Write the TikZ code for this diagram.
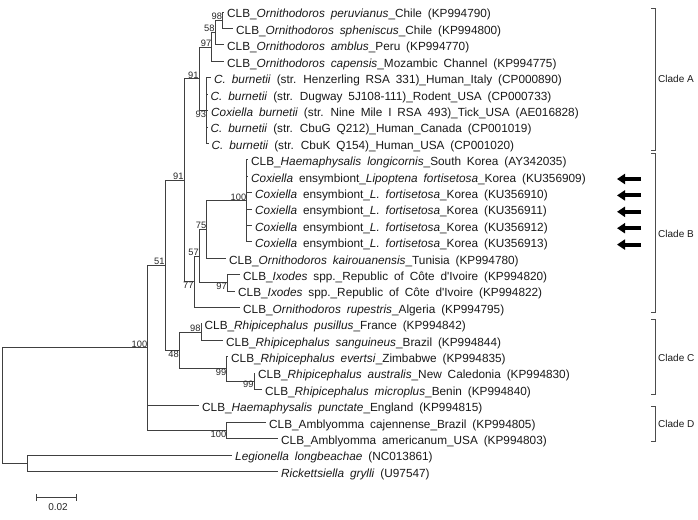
\documentclass[tikz,border=0pt]{standalone}
\usepackage{fontspec}
\setmainfont{Liberation Sans}
\usetikzlibrary{arrows.meta}

\begin{document}
\begin{tikzpicture}[
    x=1pt, y=-1pt,
    branch/.style={draw=black!75, line width=0.6pt},
    leaf/.style={anchor=base west, inner sep=0pt, xshift=3pt, yshift=-6pt, text=black!90,
        font={\fontsize{11.8}{13}\selectfont\spaceskip=0.5em\relax}},
    boot/.style={inner sep=0.3pt, text=black!85, font=\fontsize{9.3}{10}\selectfont},
    clade/.style={anchor=west, inner sep=0pt, text=black!90, font=\fontsize{10}{12}\selectfont},
    bracket/.style={draw=black!70, line width=0.6pt},
    marker/.style={-{Triangle[width=10pt,length=8pt]}, line width=4pt}
]
\useasboundingbox (0,0) rectangle (698,519);

% Internal nodes
\coordinate (nroot) at (2.5,405.4);
\coordinate (nout) at (27,463);
\coordinate (nbig) at (147.7,347.7);
\coordinate (nD) at (226.7,430.2);
\coordinate (n51) at (165,265.2);
\coordinate (nL91) at (184,180.1);
\coordinate (nU91) at (199,78.6);
\coordinate (nO97) at (211.7,46.9);
\coordinate (n58) at (215,32.5);
\coordinate (n98) at (222.5,20.2);
\coordinate (n93) at (206.5,110.4);
\coordinate (n77) at (194,281.6);
\coordinate (n57) at (199.3,256);
\coordinate (n75) at (206.7,229.3);
\coordinate (nB100) at (246.7,200.6);
\coordinate (nI97) at (227.3,282.6);
\coordinate (n48) at (179.3,350.3);
\coordinate (nC98) at (201,331.8);
\coordinate (n99) at (226.7,368.7);
\coordinate (n99b) at (254,381);

% Leaf tips
\coordinate (t1) at (224,12);
\coordinate (t2) at (233,28.4);
\coordinate (t3) at (224,44.8);
\coordinate (t4) at (224,61.2);
\coordinate (t5) at (211,77.6);
\coordinate (t6) at (207.5,94);
\coordinate (t7) at (208,110.4);
\coordinate (t8) at (207.5,126.8);
\coordinate (t9) at (208.5,143.2);
\coordinate (t10) at (248,159.6);
\coordinate (t11) at (248,176);
\coordinate (t12) at (252,192.4);
\coordinate (t13) at (252,208.8);
\coordinate (t14) at (252,225.2);
\coordinate (t15) at (252,241.6);
\coordinate (t16) at (226,258);
\coordinate (t17) at (240,274.4);
\coordinate (t18) at (235,290.8);
\coordinate (t19) at (240,307.2);
\coordinate (t20) at (201.5,323.6);
\coordinate (t21) at (223,340);
\coordinate (t22) at (228,356.4);
\coordinate (t23) at (255,372.8);
\coordinate (t24) at (262,389.2);
\coordinate (t25) at (199,405.6);
\coordinate (t26) at (266,422);
\coordinate (t27) at (278,438.4);
\coordinate (t28) at (232,454.8);
\coordinate (t29) at (278,471.2);

% Leaf labels
\node[leaf] (l1) at (t1) {CLB\_\textit{Ornithodoros peruvianus}\_Chile (KP994790)};
\node[leaf] (l2) at (t2) {CLB\_\textit{Ornithodoros spheniscus}\_Chile (KP994800)};
\node[leaf] (l3) at (t3) {CLB\_\textit{Ornithodoros amblus}\_Peru (KP994770)};
\node[leaf] (l4) at (t4) {CLB\_\textit{Ornithodoros capensis}\_Mozambic Channel (KP994775)};
\node[leaf] (l5) at (t5) {\textit{C. burnetii} (str. Henzerling RSA 331)\_Human\_Italy (CP000890)};
\node[leaf] (l6) at (t6) {\textit{C. burnetii} (str. Dugway 5J108-111)\_Rodent\_USA (CP000733)};
\node[leaf] (l7) at (t7) {\textit{Coxiella burnetii} (str. Nine Mile I RSA 493)\_Tick\_USA (AE016828)};
\node[leaf] (l8) at (t8) {\textit{C. burnetii} (str. CbuG Q212)\_Human\_Canada (CP001019)};
\node[leaf] (l9) at (t9) {\textit{C. burnetii} (str. CbuK Q154)\_Human\_USA (CP001020)};
\node[leaf] (l10) at (t10) {CLB\_\textit{Haemaphysalis longicornis}\_South Korea (AY342035)};
\node[leaf] (l11) at (t11) {\textit{Coxiella} ensymbiont\_\textit{Lipoptena fortisetosa}\_Korea (KU356909)};
\node[leaf] (l12) at (t12) {\textit{Coxiella} ensymbiont\_\textit{L. fortisetosa}\_Korea (KU356910)};
\node[leaf] (l13) at (t13) {\textit{Coxiella} ensymbiont\_\textit{L. fortisetosa}\_Korea (KU356911)};
\node[leaf] (l14) at (t14) {\textit{Coxiella} ensymbiont\_\textit{L. fortisetosa}\_Korea (KU356912)};
\node[leaf] (l15) at (t15) {\textit{Coxiella} ensymbiont\_\textit{L. fortisetosa}\_Korea (KU356913)};
\node[leaf] (l16) at (t16) {CLB\_\textit{Ornithodoros kairouanensis}\_Tunisia (KP994780)};
\node[leaf] (l17) at (t17) {CLB\_\textit{Ixodes} spp.\_Republic of Côte d\textquotesingle Ivoire (KP994820)};
\node[leaf] (l18) at (t18) {CLB\_\textit{Ixodes} spp.\_Republic of Côte d\textquotesingle Ivoire (KP994822)};
\node[leaf] (l19) at (t19) {CLB\_\textit{Ornithodoros rupestris}\_Algeria (KP994795)};
\node[leaf] (l20) at (t20) {CLB\_\textit{Rhipicephalus pusillus}\_France (KP994842)};
\node[leaf] (l21) at (t21) {CLB\_\textit{Rhipicephalus sanguineus}\_Brazil (KP994844)};
\node[leaf] (l22) at (t22) {CLB\_\textit{Rhipicephalus evertsi}\_Zimbabwe (KP994835)};
\node[leaf] (l23) at (t23) {CLB\_\textit{Rhipicephalus australis}\_New Caledonia (KP994830)};
\node[leaf] (l24) at (t24) {CLB\_\textit{Rhipicephalus microplus}\_Benin (KP994840)};
\node[leaf] (l25) at (t25) {CLB\_\textit{Haemaphysalis punctate}\_England (KP994815)};
\node[leaf] (l26) at (t26) {CLB\_Amblyomma cajennense\_Brazil (KP994805)};
\node[leaf] (l27) at (t27) {CLB\_Amblyomma americanum\_USA (KP994803)};
\node[leaf] (l28) at (t28) {\textit{Legionella longbeachae} (NC013861)};
\node[leaf] (l29) at (t29) {\textit{Rickettsiella grylli} (U97547)};

% Branches
\draw[branch] (nroot) |- (nbig) (nroot) |- (nout);
\draw[branch] (nout) |- (t28) (nout) |- (t29);
\draw[branch] (nbig) |- (n51) (nbig) |- (t25) (nbig) |- (nD);
\draw[branch] (nD) |- (t26) (nD) |- (t27);
\draw[branch] (n51) |- (nL91) (n51) |- (n48);
\draw[branch] (nL91) |- (nU91) (nL91) |- (n77);
\draw[branch] (nU91) |- (nO97) (nU91) |- (n93);
\draw[branch] (nO97) |- (n58) (nO97) |- (t4);
\draw[branch] (n58) |- (n98) (n58) |- (t3);
\draw[branch] (n98) |- (t1) (n98) |- (t2);
\draw[branch] (n93) |- (t5) (n93) |- (t6) (n93) |- (t7) (n93) |- (t8) (n93) |- (t9);
\draw[branch] (n77) |- (n57) (n77) |- (t19);
\draw[branch] (n57) |- (n75) (n57) |- (nI97);
\draw[branch] (n75) |- (nB100) (n75) |- (t16);
\draw[branch] (nB100) |- (t10) (nB100) |- (t11) (nB100) |- (t12)
    (nB100) |- (t13) (nB100) |- (t14) (nB100) |- (t15);
\draw[branch] (nI97) |- (t17) (nI97) |- (t18);
\draw[branch] (n48) |- (nC98) (n48) |- (n99);
\draw[branch] (nC98) |- (t20) (nC98) |- (t21);
\draw[branch] (n99) |- (t22) (n99) |- (n99b);
\draw[branch] (n99b) |- (t23) (n99b) |- (t24);

% Bootstrap values
\node[boot, anchor=south east] (b98) at (n98) {98};
\node[boot, anchor=south east] (b58) at (n58) {58};
\node[boot, anchor=south east] (bO97) at (nO97) {97};
\node[boot, anchor=south east] (bU91) at (nU91) {91};
\node[boot, anchor=north east] (b93) at (n93) {93};
\node[boot, anchor=south east] (bL91) at (nL91) {91};
\node[boot, anchor=south east] (bB100) at (nB100) {100};
\node[boot, anchor=south east] (b75) at (n75) {75};
\node[boot, anchor=south east] (b57) at (n57) {57};
\node[boot, anchor=north east] (bI97) at (nI97) {97};
\node[boot, anchor=north east] (b77) at (n77) {77};
\node[boot, anchor=south east] (b51) at (n51) {51};
\node[boot, anchor=south east] (bbig) at (nbig) {100};
\node[boot, anchor=south east] (bC98) at (nC98) {98};
\node[boot, anchor=north east] (b48) at (n48) {48};
\node[boot, anchor=north east] (b99) at (n99) {99};
\node[boot, anchor=north east] (b99b) at (n99b) {99};
\node[boot, anchor=north east] (bD100) at (nD) {100};

% Arrows for the new sequences
\coordinate (m11) at (641,179);
\coordinate (m12) at (641,195.4);
\coordinate (m13) at (641,211.8);
\coordinate (m14) at (641,228.2);
\coordinate (m15) at (641,244.6);
\draw[marker] (m11) -- ++(-24,0);
\draw[marker] (m12) -- ++(-24,0);
\draw[marker] (m13) -- ++(-24,0);
\draw[marker] (m14) -- ++(-24,0);
\draw[marker] (m15) -- ++(-24,0);

% Clade brackets
\coordinate (cA1) at (651,8);
\coordinate (cA2) at (651,150);
\coordinate (cB1) at (651,153);
\coordinate (cB2) at (651,312);
\coordinate (cC1) at (651,319);
\coordinate (cC2) at (651,394);
\coordinate (cD1) at (651,406);
\coordinate (cD2) at (651,441);
\draw[bracket] (cA1) -- ++(4,0) |- (cA2);
\draw[bracket] (cB1) -- ++(4,0) |- (cB2);
\draw[bracket] (cC1) -- ++(4,0) |- (cC2);
\draw[bracket] (cD1) -- ++(4,0) |- (cD2);
\node[clade] (cladeA) at (658,79) {Clade A};
\node[clade] (cladeB) at (658,234) {Clade B};
\node[clade] (cladeC) at (658,358) {Clade C};
\node[clade] (cladeD) at (658,424) {Clade D};

% Scale bar
\coordinate (sb1) at (36,497.7);
\coordinate (sb2) at (76.7,497.7);
\draw[branch, {Bar[width=7pt]}-{Bar[width=7pt]}] (sb1) -- (sb2);
\node[boot, font=\fontsize{10}{11}\selectfont] (sblab) at (58,507) {0.02};

\end{tikzpicture}
\end{document}
